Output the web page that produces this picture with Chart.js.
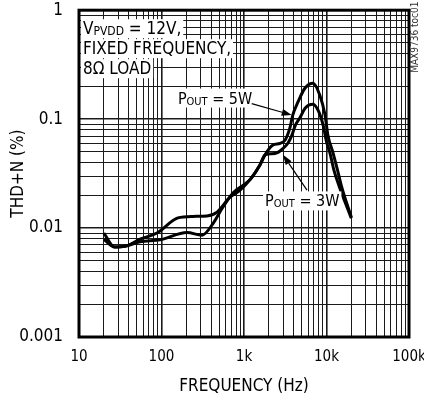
<!DOCTYPE html>
<html>
<head>
<meta charset="utf-8">
<script src="https://cdn.jsdelivr.net/npm/chart.js@4.4.1/dist/chart.umd.min.js"></script>
<style>
  html, body { margin: 0; padding: 0; background: #fff; }
  #wrap { width: 424px; height: 400px; }
</style>
</head>
<body>
<div id="wrap"><canvas id="thdChart" width="424" height="400"></canvas></div>
<script>
// ============================================================
// THD+N vs FREQUENCY — two output power curves
// ============================================================

// Data
const freq5W = [20, 27, 36, 55, 96, 204, 310, 421, 556, 736, 1000, 1190, 1560, 1800,
                2070, 2260, 2740, 3140, 3600, 3900, 4500, 5500, 6850, 8300, 9600, 10400,
                12000, 13600, 15300, 20000];
const thd5W  = [0.0079, 0.0067, 0.0068, 0.0075, 0.0078, 0.0091, 0.0086, 0.0110, 0.0156, 0.0210,
                0.025, 0.028, 0.038, 0.047, 0.055, 0.058, 0.060, 0.064, 0.083, 0.109, 0.143,
                0.193, 0.214, 0.166, 0.109, 0.071, 0.049, 0.034, 0.0237, 0.0126];

const freq3W = [20, 27, 36, 55, 88, 158, 240, 356, 471, 676, 895, 1190, 1560, 1800,
                2070, 2500, 2980, 3400, 3800, 4200, 4800, 5500, 6850, 8100, 9100, 10000,
                11000, 12300, 14300, 20000];
const thd3W  = [0.0090, 0.0067, 0.0068, 0.0079, 0.0090, 0.0124, 0.0128, 0.0129, 0.0140, 0.0192,
                0.0223, 0.028, 0.038, 0.047, 0.048, 0.049, 0.054, 0.060, 0.071, 0.088, 0.104,
                0.126, 0.137, 0.116, 0.088, 0.062, 0.049, 0.034, 0.024, 0.0123];

const xDecades    = [10, 100, 1000, 10000, 100000];
const xTickLabels = ['10', '100', '1k', '10k', '100k'];
const yDecades    = [0.001, 0.01, 0.1, 1];
const yTickLabels = ['0.001', '0.01', '0.1', '1'];
const minorSteps  = [1, 2, 3, 4, 5, 6, 7, 8, 9];

const FONT = "'Liberation Sans Narrow', 'DejaVu Sans Condensed', 'Liberation Sans', sans-serif";

// Helpers
function gridValues(decades) {
  const out = [];
  decades.forEach((d, i) => {
    if (i === decades.length - 1) { out.push(d); return; }
    minorSteps.forEach(m => out.push(d * m));
  });
  return out;
}
function isDecade(v) {
  const l = Math.log10(v);
  return Math.abs(l - Math.round(l)) < 1e-6;
}
function labelFor(v, decades, labels) {
  const i = decades.findIndex(d => Math.abs(d - v) / d < 1e-6);
  return i >= 0 ? labels[i] : '';
}
function toPoints(xs, ys) {
  return xs.map((x, i) => ({ x: x, y: ys[i] }));
}

// Text with a subscript part, on a white patch
function drawRich(ctx, parts, x, y, bg) {
  let w = 0;
  parts.forEach(p => {
    ctx.font = p.size + 'px ' + FONT;
    p.w = ctx.measureText(p.t).width;
    w += p.w;
  });
  if (bg) {
    ctx.fillStyle = '#fff';
    ctx.fillRect(x - 2, y - 15, w + 4, 19);
  }
  ctx.fillStyle = '#000';
  ctx.textBaseline = 'alphabetic';
  ctx.textAlign = 'left';
  let cx = x;
  parts.forEach(p => {
    ctx.font = p.size + 'px ' + FONT;
    ctx.fillText(p.t, cx, y + (p.dy || 0));
    cx += p.w;
  });
}

function drawArrow(ctx, x0, y0, x1, y1) {
  const ang = Math.atan2(y1 - y0, x1 - x0);
  const len = 10, hw = 3.5;
  const c = Math.cos(ang), s = Math.sin(ang);
  ctx.strokeStyle = '#000';
  ctx.lineWidth = 1.2;
  ctx.beginPath();
  ctx.moveTo(x0, y0);
  ctx.lineTo(x1 - c * len, y1 - s * len);
  ctx.stroke();
  ctx.fillStyle = '#000';
  ctx.beginPath();
  ctx.moveTo(x1, y1);
  ctx.lineTo(x1 - c * len - s * hw, y1 - s * len + c * hw);
  ctx.lineTo(x1 - c * len + s * hw, y1 - s * len - c * hw);
  ctx.closePath();
  ctx.fill();
}

// Annotations + heavy frame
const annotate = {
  id: 'annotate',
  afterDatasetsDraw(chart) {
    const { ctx, chartArea: a, scales: { x, y } } = chart;
    ctx.save();

    // conditions box
    drawRich(ctx, [{ t: 'V', size: 17 }, { t: 'PVDD', size: 12, dy: 1 }, { t: ' = 12V,', size: 17 }], a.left + 4, a.top + 24, true);
    drawRich(ctx, [{ t: 'FIXED FREQUENCY,', size: 17 }], a.left + 4, a.top + 44, true);
    drawRich(ctx, [{ t: '8\u03A9 LOAD', size: 17 }], a.left + 4, a.top + 64, true);

    // curve labels
    drawRich(ctx, [{ t: 'P', size: 16 }, { t: 'OUT', size: 11, dy: 1 }, { t: ' = 5W', size: 16 }],
      x.getPixelForValue(158), y.getPixelForValue(0.139), true);
    drawArrow(ctx, x.getPixelForValue(1240), y.getPixelForValue(0.139),
      x.getPixelForValue(3785), y.getPixelForValue(0.109));

    drawRich(ctx, [{ t: 'P', size: 16 }, { t: 'OUT', size: 11, dy: 1 }, { t: ' = 3W', size: 16 }],
      x.getPixelForValue(1800), y.getPixelForValue(0.0158), true);
    drawArrow(ctx, x.getPixelForValue(5800), y.getPixelForValue(0.0223),
      x.getPixelForValue(2970), y.getPixelForValue(0.047));

    // frame
    ctx.strokeStyle = '#000';
    ctx.lineWidth = 3;
    ctx.strokeRect(a.left, a.top, a.right - a.left, a.bottom - a.top);

    // figure id
    ctx.save();
    ctx.translate(a.right + 6, a.top + 27);
    ctx.rotate(-Math.PI / 2);
    ctx.font = '10px ' + FONT;
    ctx.fillStyle = '#333';
    ctx.textAlign = 'center';
    ctx.textBaseline = 'middle';
    ctx.fillText('MAX9736 toc01', 0, 0);
    ctx.restore();

    ctx.restore();
  }
};

Chart.defaults.font.family = FONT;
Chart.defaults.color = '#000';

// tick padding is done with invisible tick marks, so the chart area is not pushed in
const gridStyle = {
  color: '#1a1a1a',
  lineWidth: c => (c.tick && isDecade(c.tick.value)) ? 1.6 : 1,
  drawTicks: true,
  tickColor: 'rgba(0,0,0,0)'
};

new Chart(document.getElementById('thdChart'), {
  type: 'scatter',
  data: {
    datasets: [
      {
        label: 'POUT = 5W',
        data: toPoints(freq5W, thd5W),
        showLine: true,
        borderColor: '#000',
        borderWidth: 3,
        pointRadius: 0,
        cubicInterpolationMode: 'monotone'
      },
      {
        label: 'POUT = 3W',
        data: toPoints(freq3W, thd3W),
        showLine: true,
        borderColor: '#000',
        borderWidth: 3,
        pointRadius: 0,
        cubicInterpolationMode: 'monotone'
      }
    ]
  },
  options: {
    responsive: false,
    animation: false,
    layout: { padding: { top: 10, right: 15, left: 0, bottom: 0 } },
    plugins: {
      legend: { display: false },
      tooltip: { enabled: false }
    },
    scales: {
      x: {
        type: 'logarithmic',
        min: 10,
        max: 100000,
        afterBuildTicks: s => { s.ticks = gridValues(xDecades).map(v => ({ value: v })); },
        afterFit: s => { s.height = 63; s.paddingRight = 14; },
        ticks: {
          autoSkip: false,
          maxRotation: 0,
          padding: 1,
          color: '#000',
          font: { size: 15 },
          callback: v => labelFor(v, xDecades, xTickLabels)
        },
        grid: Object.assign({ tickLength: 10 }, gridStyle),
        border: { display: false },
        title: {
          display: true,
          text: 'FREQUENCY (Hz)',
          color: '#000',
          font: { size: 17 },
          padding: { top: 0, bottom: 3 }
        }
      },
      y: {
        type: 'logarithmic',
        min: 0.001,
        max: 1,
        afterBuildTicks: s => { s.ticks = gridValues(yDecades).map(v => ({ value: v })); },
        afterFit: s => { s.width = 79; },
        ticks: {
          autoSkip: false,
          padding: 0,
          color: '#000',
          font: { size: 17 },
          callback: v => labelFor(v, yDecades, yTickLabels)
        },
        grid: Object.assign({ tickLength: 16 }, gridStyle),
        border: { display: false },
        title: {
          display: true,
          text: 'THD+N (%)',
          color: '#000',
          font: { size: 17 },
          padding: { top: 8, bottom: 0 }
        }
      }
    }
  },
  plugins: [annotate]
});
</script>
</body>
</html>
